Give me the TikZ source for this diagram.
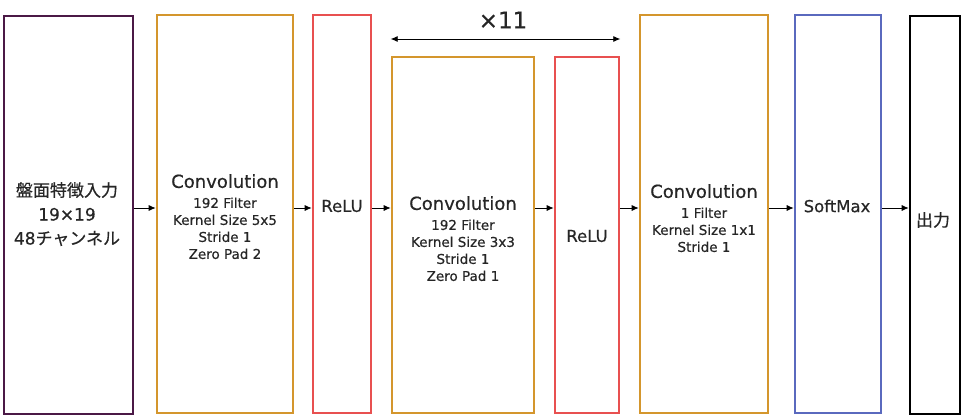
\documentclass[tikz,border=0pt]{standalone}
\usepackage{fontspec}
\setmainfont{DejaVu Sans}[FakeBold=0.5]
\newfontfamily\jpfont{Noto Sans CJK JP}[FakeBold=0.5]
\usetikzlibrary{arrows.meta}
\definecolor{inputcol}{RGB}{75,25,70}
\definecolor{convcol}{RGB}{212,150,45}
\definecolor{relucol}{RGB}{232,80,80}
\definecolor{softcol}{RGB}{90,105,190}
\begin{document}
\begin{tikzpicture}[x=1pt,y=-1pt,
    layer/.style={draw,line width=2.6pt,rectangle,inner sep=0pt},
    txt/.style={align=center,inner sep=0pt,text=black!85,font=\fontsize{13.5}{17}\selectfont},
    >={Latex[length=7pt,width=6pt]}]
      \useasboundingbox (0,0) rectangle (969,420);
      \draw
        (68.5,215) node[layer,inputcol,minimum width=129pt,minimum height=398pt] (in){}
        (225,214) node[layer,convcol,minimum width=136pt,minimum height=398pt] (conva){}
        (342,214) node[layer,relucol,minimum width=58pt,minimum height=398pt] (relua){}
        (463,235) node[layer,convcol,minimum width=142pt,minimum height=356pt] (convb){}
        (587,235) node[layer,relucol,minimum width=64pt,minimum height=356pt] (relub){}
        (704,214) node[layer,convcol,minimum width=128pt,minimum height=398pt] (convc){}
        (838,214) node[layer,softcol,minimum width=86pt,minimum height=398pt] (soft){}
        (935,215) node[layer,black,minimum width=50pt,minimum height=398pt] (out){};
      % texts
      \draw
        (67,182) node[txt,anchor=north,font=\fontsize{17}{24}\selectfont] (intxt){{\jpfont 盤面特徴入力}\\19×19\\48{\jpfont チャンネル}}
        (225,174) node[txt,anchor=north] (convatxt){{\fontsize{18}{17}\selectfont Convolution}\\[3pt]192 Filter\\Kernel Size 5x5\\Stride 1\\Zero Pad 2}
        (342,206) node[txt,font=\fontsize{16.5}{16.5}\selectfont] (reluatxt){ReLU}
        (463,196) node[txt,anchor=north] (convbtxt){{\fontsize{18}{17}\selectfont Convolution}\\[3pt]192 Filter\\Kernel Size 3x3\\Stride 1\\Zero Pad 1}
        (587,236) node[txt,font=\fontsize{16.5}{16.5}\selectfont] (relubtxt){ReLU}
        (704,184) node[txt,anchor=north] (convctxt){{\fontsize{18}{17}\selectfont Convolution}\\[3pt]1 Filter\\Kernel Size 1x1\\Stride 1}
        (837,206) node[txt,font=\fontsize{16.5}{16.5}\selectfont] (softtxt){SoftMax}
        (933,220) node[txt,font=\fontsize{17}{17}\jpfont] (outtxt){出力}
        (503,20) node[txt,font=\fontsize{23}{23}\selectfont] (reptxt){×11};
      \coordinate (lvl) at (0,208);
      \coordinate (rep) at (0,39);
      \begin{scope}[->,line width=0.8pt]
        \draw (in.east |- lvl) to (conva.west |- lvl);
        \draw (conva.east |- lvl) to (relua.west |- lvl);
        \draw (relua.east |- lvl) to (convb.west |- lvl);
        \draw (convb.east |- lvl) to (relub.west |- lvl);
        \draw (relub.east |- lvl) to (convc.west |- lvl);
        \draw (convc.east |- lvl) to (soft.west |- lvl);
        \draw (soft.east |- lvl) to (out.west |- lvl);
        \draw[<->] (convb.west |- rep) to (relub.east |- rep);
      \end{scope}
    \end{tikzpicture}
\end{document}
